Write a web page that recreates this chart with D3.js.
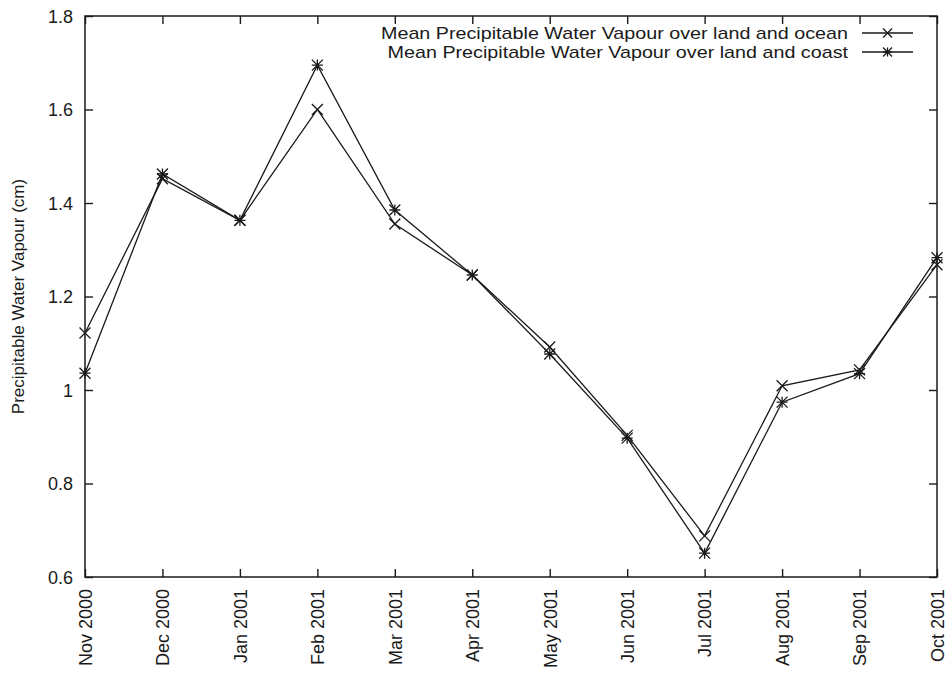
<!DOCTYPE html>
<html>
<head>
<meta charset="utf-8">
<script src="https://cdn.jsdelivr.net/npm/d3@7"></script>
<style>
  html, body { margin: 0; padding: 0; background: #fff; }
  svg { display: block; font-family: "Liberation Sans", Arial, Helvetica, sans-serif; }
</style>
</head>
<body>
<svg id="chart" width="952" height="674"></svg>
<script>
// Monthly mean precipitable water vapour (cm)
const months = ["Nov 2000", "Dec 2000", "Jan 2001", "Feb 2001", "Mar 2001", "Apr 2001",
                "May 2001", "Jun 2001", "Jul 2001", "Aug 2001", "Sep 2001", "Oct 2001"];
const landOcean = [1.122, 1.452, 1.363, 1.600, 1.355, 1.246, 1.092, 0.903, 0.688, 1.009, 1.043, 1.268];
const landCoast = [1.036, 1.462, 1.363, 1.695, 1.385, 1.246, 1.077, 0.897, 0.651, 0.974, 1.035, 1.283];
const yTicks = [0.6, 0.8, 1.0, 1.2, 1.4, 1.6, 1.8];
const seriesNames = ["Mean Precipitable Water Vapour over land and ocean",
                     "Mean Precipitable Water Vapour over land and coast"];

const svg = d3.select("#chart");
const margin = { left: 85, top: 16, right: 15, bottom: 97 };
const W = 952, H = 674;
const x0 = margin.left, x1 = W - margin.right, y0 = H - margin.bottom, y1 = margin.top;
const ink = "#1a1a1a";

const x = d3.scalePoint().domain(months).range([x0, x1]);
const y = d3.scaleLinear().domain([0.6, 1.8]).range([y0, y1]);

const tickLen = 8;
const fmtY = d => (d === 1 ? "1" : d3.format(".1f")(d));

// Inward ticks on all four sides, labels only on left and bottom
const axisBottom = d3.axisBottom(x).tickSizeInner(-tickLen).tickSizeOuter(0).tickPadding(10);
const axisTop = d3.axisTop(x).tickSizeInner(-tickLen).tickSizeOuter(0).tickFormat("");
const axisLeft = d3.axisLeft(y).tickValues(yTicks).tickFormat(fmtY).tickSizeInner(-tickLen).tickSizeOuter(0).tickPadding(12);
const axisRight = d3.axisRight(y).tickValues(yTicks).tickFormat("").tickSizeInner(-tickLen).tickSizeOuter(0);

const gB = svg.append("g").attr("transform", `translate(0,${y0})`).call(axisBottom);
svg.append("g").attr("transform", `translate(0,${y1})`).call(axisTop);
const gL = svg.append("g").attr("transform", `translate(${x0},0)`).call(axisLeft);
svg.append("g").attr("transform", `translate(${x1},0)`).call(axisRight);

svg.selectAll(".domain").remove();
svg.selectAll(".tick line").attr("stroke", ink).attr("stroke-width", 1.4);
svg.selectAll(".tick text").attr("fill", ink).style("font-size", "18px");

// Rotated month labels
gB.selectAll(".tick text")
  .attr("transform", "rotate(-90)")
  .attr("text-anchor", "end")
  .attr("x", -12)
  .attr("y", 0)
  .attr("dy", "0.35em");

gL.selectAll(".tick text").attr("dy", "0.36em");

// Plot frame
svg.append("rect")
  .attr("x", x0).attr("y", y1)
  .attr("width", x1 - x0).attr("height", y0 - y1)
  .attr("fill", "none").attr("stroke", ink).attr("stroke-width", 1.5);

// Y axis title
svg.append("text")
  .attr("transform", `translate(24,${(y0 + y1) / 2}) rotate(-90)`)
  .attr("text-anchor", "middle")
  .attr("fill", ink)
  .style("font-size", "17px")
  .text("Precipitable Water Vapour (cm)");

// Point markers
const r = 5.5;
function crossPath(cx, cy, s = r) {
  return `M${cx - s},${cy - s}L${cx + s},${cy + s}M${cx - s},${cy + s}L${cx + s},${cy - s}`;
}
function starPath(cx, cy, s = r) {
  return crossPath(cx, cy, s) + `M${cx - s},${cy}L${cx + s},${cy}M${cx},${cy - s}L${cx},${cy + s}`;
}

const line = d3.line().x((d, i) => x(months[i])).y(d => y(d));
const series = [
  { name: seriesNames[0], values: landOcean, marker: crossPath },
  { name: seriesNames[1], values: landCoast, marker: starPath }
];

series.forEach(s => {
  svg.append("path")
    .attr("d", line(s.values))
    .attr("fill", "none").attr("stroke", ink).attr("stroke-width", 1.3);
  svg.append("path")
    .attr("d", s.values.map((v, i) => s.marker(x(months[i]), y(v))).join(""))
    .attr("fill", "none").attr("stroke", ink).attr("stroke-width", 1.3);
});

// Legend (slightly wide lettering)
const legendRight = 848, sampleX0 = 862, sampleX1 = 913, widen = 1.16;
series.forEach((s, i) => {
  const ly = 33 + i * 19;
  const t = svg.append("text")
    .attr("x", legendRight).attr("y", ly)
    .attr("dy", "0.35em")
    .attr("text-anchor", "end")
    .attr("fill", ink)
    .style("font-size", "17px")
    .text(s.name);
  const natural = t.node().getComputedTextLength();
  t.attr("textLength", natural * widen).attr("lengthAdjust", "spacingAndGlyphs");
  svg.append("line")
    .attr("x1", sampleX0).attr("x2", sampleX1).attr("y1", ly).attr("y2", ly)
    .attr("stroke", ink).attr("stroke-width", 1.3);
  svg.append("path")
    .attr("d", s.marker((sampleX0 + sampleX1) / 2, ly, 4.5))
    .attr("fill", "none").attr("stroke", ink).attr("stroke-width", 1.3);
});
</script>
</body>
</html>
